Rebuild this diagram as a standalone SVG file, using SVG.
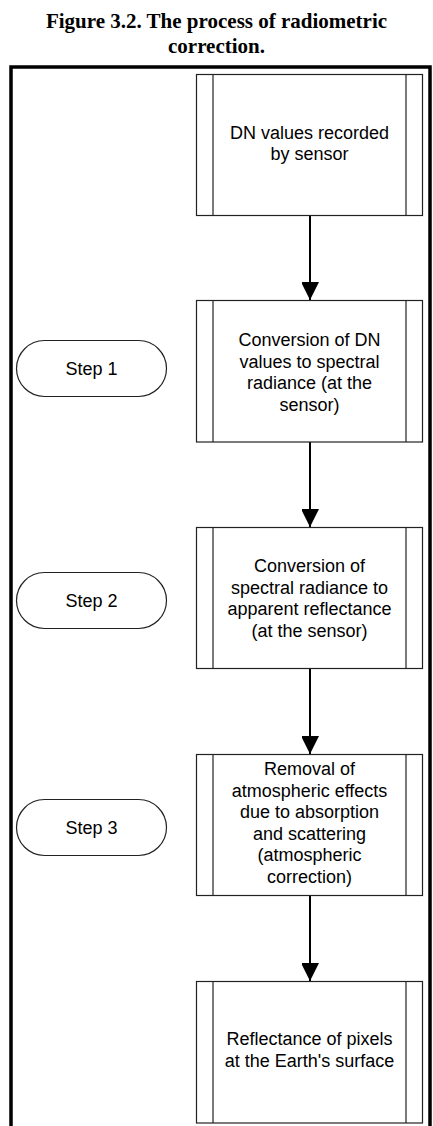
<svg xmlns="http://www.w3.org/2000/svg" width="433" height="1126" viewBox="0 0 433 1126">
<defs>
<style>
.title{font-family:"Liberation Serif","Times New Roman",serif;font-weight:bold;font-size:21px;fill:#000;text-anchor:middle}
.t{font-family:"Liberation Sans",Arial,sans-serif;font-size:18px;fill:#000;text-anchor:middle}
.box{fill:#fff;stroke:#222;stroke-width:1.2}
.in{stroke:#222;stroke-width:1.2}
.term{fill:#fff;stroke:#222;stroke-width:1.2}
.conn{stroke:#000;stroke-width:2;fill:none}
</style>
<marker id="ah" markerWidth="18" markerHeight="17" refX="18" refY="9" orient="auto" markerUnits="userSpaceOnUse">
<path d="M0,0 L18,9 L0,18 Z" fill="#000"/>
</marker>
</defs>
<rect width="433" height="1126" fill="#fff"/>
<g id="title">
<text class="title" x="216.5" y="28">Figure 3.2. The process of radiometric</text>
<text class="title" x="216.5" y="52.5">correction.</text>
</g>
<g id="frame">
<path d="M11,1128 V67 H430 V1128" fill="none" stroke="#000" stroke-width="3.5"/>
</g>
<g id="connectors">
<line class="conn" x1="310" y1="215" x2="310" y2="300" marker-end="url(#ah)"/>
<line class="conn" x1="310" y1="442" x2="310" y2="527" marker-end="url(#ah)"/>
<line class="conn" x1="310" y1="668" x2="310" y2="754" marker-end="url(#ah)"/>
<line class="conn" x1="310" y1="895" x2="310" y2="981" marker-end="url(#ah)"/>
</g>
<g id="box1">
<rect class="box" x="196.5" y="74.5" width="226" height="141"/>
<line class="in" x1="213" y1="74.5" x2="213" y2="215.5"/>
<line class="in" x1="406" y1="74.5" x2="406" y2="215.5"/>
<text class="t" x="309.5" y="138.5">DN values recorded</text>
<text class="t" x="309.5" y="160">by sensor</text>
</g>
<g id="box2">
<rect class="box" x="196.5" y="300.5" width="226" height="141.5"/>
<line class="in" x1="213" y1="300.5" x2="213" y2="442"/>
<line class="in" x1="406" y1="300.5" x2="406" y2="442"/>
<text class="t" x="309.5" y="346">Conversion of DN</text>
<text class="t" x="309.5" y="367.5">values to spectral</text>
<text class="t" x="309.5" y="389">radiance (at the</text>
<text class="t" x="309.5" y="410.5">sensor)</text>
</g>
<g id="box3">
<rect class="box" x="196.5" y="527.5" width="226" height="141"/>
<line class="in" x1="213" y1="527.5" x2="213" y2="668.5"/>
<line class="in" x1="406" y1="527.5" x2="406" y2="668.5"/>
<text class="t" x="309.5" y="572">Conversion of</text>
<text class="t" x="309.5" y="593.5">spectral radiance to</text>
<text class="t" x="309.5" y="615">apparent reflectance</text>
<text class="t" x="309.5" y="636.5">(at the sensor)</text>
</g>
<g id="box4">
<rect class="box" x="196.5" y="754.5" width="226" height="141"/>
<line class="in" x1="213" y1="754.5" x2="213" y2="895.5"/>
<line class="in" x1="406" y1="754.5" x2="406" y2="895.5"/>
<text class="t" x="309.5" y="775">Removal of</text>
<text class="t" x="309.5" y="796.5">atmospheric effects</text>
<text class="t" x="309.5" y="818">due to absorption</text>
<text class="t" x="309.5" y="839.5">and scattering</text>
<text class="t" x="309.5" y="861">(atmospheric</text>
<text class="t" x="309.5" y="882.5">correction)</text>
</g>
<g id="box5">
<rect class="box" x="196.5" y="981.5" width="226" height="141.5"/>
<line class="in" x1="213" y1="981.5" x2="213" y2="1123"/>
<line class="in" x1="406" y1="981.5" x2="406" y2="1123"/>
<text class="t" x="309.5" y="1045">Reflectance of pixels</text>
<text class="t" x="309.5" y="1067">at the Earth's surface</text>
</g>
<g id="step1">
<rect class="term" x="16.5" y="340.5" width="150" height="56" rx="28" ry="28"/>
<text class="t" x="91.5" y="375">Step 1</text>
</g>
<g id="step2">
<rect class="term" x="16.5" y="572.5" width="150" height="56" rx="28" ry="28"/>
<text class="t" x="91.5" y="607">Step 2</text>
</g>
<g id="step3">
<rect class="term" x="16.5" y="799.5" width="150" height="56" rx="28" ry="28"/>
<text class="t" x="91.5" y="834">Step 3</text>
</g>
</svg>
